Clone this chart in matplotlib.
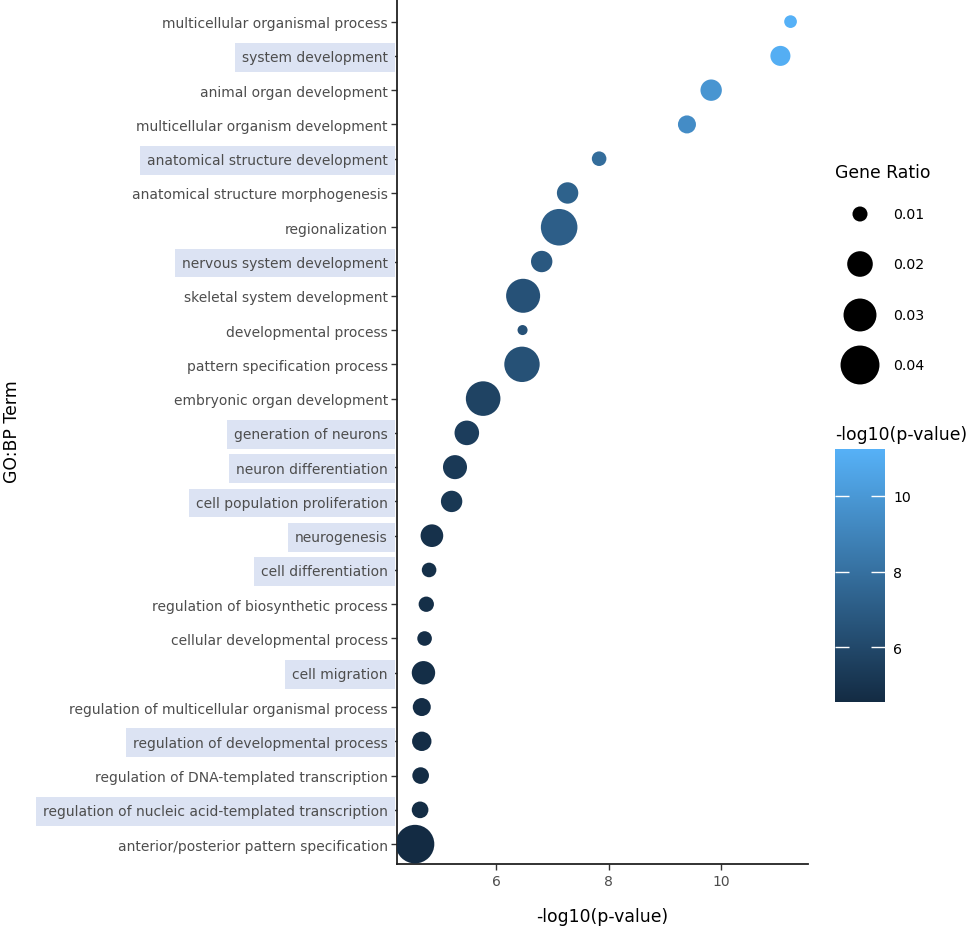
import numpy as np
import matplotlib
matplotlib.use('Agg')
from matplotlib import pyplot as plt
from matplotlib.colors import LinearSegmentedColormap, Normalize
from matplotlib.cm import ScalarMappable

plt.rcParams['font.family'] = ['DejaVu Sans']

# GO:BP terms, top to bottom
terms = [
    "multicellular organismal process",
    "system development",
    "animal organ development",
    "multicellular organism development",
    "anatomical structure development",
    "anatomical structure morphogenesis",
    "regionalization",
    "nervous system development",
    "skeletal system development",
    "developmental process",
    "pattern specification process",
    "embryonic organ development",
    "generation of neurons",
    "neuron differentiation",
    "cell population proliferation",
    "neurogenesis",
    "cell differentiation",
    "regulation of biosynthetic process",
    "cellular developmental process",
    "cell migration",
    "regulation of multicellular organismal process",
    "regulation of developmental process",
    "regulation of DNA-templated transcription",
    "regulation of nucleic acid-templated transcription",
    "anterior/posterior pattern specification",
]
neglog_p = [11.23, 11.05, 9.82, 9.39, 7.83, 7.27, 7.12, 6.81, 6.48, 6.47,
            6.46, 5.77, 5.48, 5.27, 5.21, 4.86, 4.81, 4.76, 4.73, 4.71,
            4.68, 4.68, 4.66, 4.65, 4.56]
gene_ratio = [0.0085, 0.0141, 0.0154, 0.0123, 0.0097, 0.0154, 0.0359, 0.0154, 0.0317, 0.0071,
              0.0339, 0.0326, 0.0188, 0.0182, 0.0154, 0.0167, 0.0097, 0.0102, 0.0097, 0.0175,
              0.0123, 0.0135, 0.0112, 0.0112, 0.0394]
highlighted = ["system development", "anatomical structure development",
               "nervous system development", "generation of neurons",
               "neuron differentiation", "cell population proliferation",
               "neurogenesis", "cell differentiation", "cell migration",
               "regulation of developmental process",
               "regulation of nucleic acid-templated transcription"]
legend_ratios = [0.01, 0.02, 0.03, 0.04]
cbar_ticks = [6, 8, 10]

DPI = 100
W, H = 969, 928

def ratio_to_s(r):
    # area linear in gene ratio (radius in px), converted to marker area in pt^2
    rad = np.sqrt(np.maximum(np.asarray(r) * 10740 - 51, 1))
    return (2 * rad * 72 / DPI) ** 2

cmap = LinearSegmentedColormap.from_list('gg', ['#132B43', '#56B1F7'])
norm = Normalize(vmin=min(neglog_p), vmax=max(neglog_p))

fig = plt.figure(figsize=(W / DPI, H / DPI), dpi=DPI)
ax = fig.add_axes([397 / W, 1 - 865 / H, (808 - 397) / W, 865 / H])

n = len(terms)
ypos = np.arange(n)[::-1] + 1
ax.scatter(neglog_p, ypos, s=ratio_to_s(gene_ratio), c=neglog_p, cmap=cmap, norm=norm,
           edgecolors='none', zorder=3)

ax.set_ylim(0.42, n + 0.66)
ax.set_xlim(4.24, 11.54)
ax.set_yticks(ypos)
ax.set_yticklabels(terms)
ax.set_xticks([6, 8, 10])
for side in ['top', 'right']:
    ax.spines[side].set_visible(False)
for side in ['left', 'bottom']:
    ax.spines[side].set_linewidth(1.3)
    ax.spines[side].set_color('#222222')
ax.tick_params(axis='both', length=4, width=1, color='#333333', labelcolor='#4d4d4d',
               labelsize=10)
ax.tick_params(axis='y', pad=2.5)
ax.tick_params(axis='x', pad=3)

for lab in ax.get_yticklabels():
    if lab.get_text() in highlighted:
        lab.set_bbox(dict(facecolor='#dce3f3', edgecolor='none', pad=5.3))

ax.set_xlabel('-log10(p-value)', fontsize=12.4, labelpad=14)
fig.text(12 / W, 1 - 432 / H, 'GO:BP Term', rotation=90, fontsize=12.4,
         ha='center', va='center')

# size legend
lax = fig.add_axes([0, 0, 1, 1], zorder=-1)
lax.set_xlim(0, W)
lax.set_ylim(H, 0)
lax.axis('off')
leg_y = [215, 265, 316, 366]
lax.scatter([860] * len(legend_ratios), leg_y, s=ratio_to_s(legend_ratios), c='black',
            edgecolors='none')
for yy, rr in zip(leg_y, legend_ratios):
    lax.text(893, yy, f"{rr:.2f}", fontsize=10.2, va='center', ha='left')
lax.text(835, 173, 'Gene Ratio', fontsize=12.4, va='center', ha='left')
lax.text(835, 435, '-log10(p-value)', fontsize=12.4, va='center', ha='left')

# colour bar
cax = fig.add_axes([835 / W, 1 - 703 / H, 50 / W, 253 / H])
cb = fig.colorbar(ScalarMappable(norm=norm, cmap=cmap), cax=cax)
cb.outline.set_visible(False)
cb.set_ticks(cbar_ticks)
cax.tick_params(direction='in', color='white', length=10, width=1, left=True, right=True,
                labelleft=False, labelright=True, labelsize=10.2, pad=6)

fig.savefig('out.png', dpi=DPI, facecolor='white')
